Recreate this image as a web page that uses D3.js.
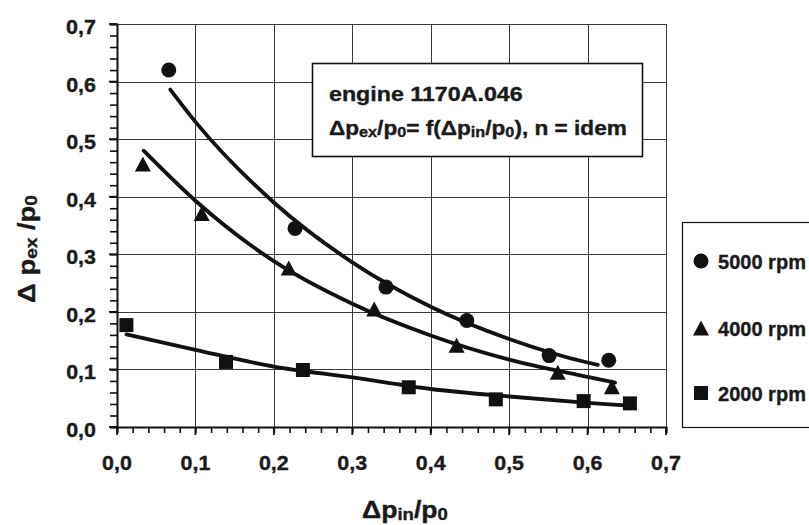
<!DOCTYPE html>
<html>
<head>
<meta charset="utf-8">
<script src="https://cdn.jsdelivr.net/npm/d3@7"></script>
<style>
  html, body { margin: 0; padding: 0; background: #fff; }
  svg { display: block; }
  text { font-family: "Liberation Sans", Arial, Helvetica, sans-serif; font-weight: bold; fill: #1a1a1a; stroke: #1a1a1a; stroke-width: 0.35px; }
</style>
</head>
<body>
<div id="chart"></div>
<script>
// ---------- data ----------
const xTickValues = [0, 0.1, 0.2, 0.3, 0.4, 0.5, 0.6, 0.7];
const xTickLabels = ["0,0", "0,1", "0,2", "0,3", "0,4", "0,5", "0,6", "0,7"];
const yTickValues = [0, 0.1, 0.2, 0.3, 0.4, 0.5, 0.6, 0.7];
const yTickLabels = ["0,0", "0,1", "0,2", "0,3", "0,4", "0,5", "0,6", "0,7"];

const seriesNames = ["5000 rpm", "4000 rpm", "2000 rpm"];
const seriesSymbols = ["circle", "triangle", "square"];

// measured points
const rpm5000X = [0.066, 0.227, 0.343, 0.446, 0.551, 0.627];
const rpm5000Y = [0.620, 0.345, 0.243, 0.185, 0.124, 0.116];
const rpm4000X = [0.033, 0.108, 0.219, 0.328, 0.433, 0.562, 0.631];
const rpm4000Y = [0.457, 0.371, 0.276, 0.205, 0.142, 0.095, 0.070];
const rpm2000X = [0.012, 0.139, 0.237, 0.372, 0.483, 0.595, 0.654];
const rpm2000Y = [0.177, 0.113, 0.099, 0.069, 0.048, 0.045, 0.041];

// trend lines
const trend5000X = [0.068, 0.1, 0.2, 0.3, 0.4, 0.5, 0.6, 0.613];
const trend5000Y = [0.586, 0.530, 0.390, 0.286, 0.209, 0.153, 0.112, 0.108];
const trend4000X = [0.034, 0.1, 0.2, 0.3, 0.4, 0.5, 0.6, 0.635];
const trend4000Y = [0.480, 0.393, 0.288, 0.214, 0.159, 0.117, 0.087, 0.077];
const trend2000X = [0.012, 0.1, 0.2, 0.3, 0.4, 0.5, 0.6, 0.652];
const trend2000Y = [0.161, 0.134, 0.105, 0.086, 0.066, 0.053, 0.042, 0.037];

const noteLine1 = "engine 1170A.046";

// ---------- layout ----------
const W = 809, H = 525;
const plot = { left: 117, right: 666, top: 24, bottom: 427 };

const svg = d3.select("#chart").append("svg").attr("width", W).attr("height", H);

const x = d3.scaleLinear().domain([0, 0.7]).range([plot.left, plot.right]);
const y = d3.scaleLinear().domain([0, 0.7]).range([plot.bottom, plot.top]);

// horizontal fit helper: stretch a text element horizontally to a target width around anchor ax
function fitWidth(sel, target, ax) {
  const bb = sel.node().getBBox();
  const k = target / bb.width;
  sel.attr("transform", `translate(${ax},0) scale(${k},1) translate(${-ax},0)`);
}

// ---------- grid ----------
const grid = svg.append("g");
grid.selectAll("line.v").data(xTickValues.slice(1)).join("line")
  .attr("x1", d => Math.round(x(d)) + 0.5).attr("x2", d => Math.round(x(d)) + 0.5)
  .attr("y1", plot.top).attr("y2", plot.bottom)
  .attr("stroke", "#3a3a3a").attr("stroke-width", 1);
grid.selectAll("line.h").data(yTickValues.slice(1)).join("line")
  .attr("y1", d => Math.round(y(d)) + 0.5).attr("y2", d => Math.round(y(d)) + 0.5)
  .attr("x1", plot.left).attr("x2", plot.right)
  .attr("stroke", "#3a3a3a").attr("stroke-width", 1);

// ---------- axes ----------
const minorX = d3.range(0, 0.7001, 0.02);
const xAxis = d3.axisBottom(x).tickValues(minorX).tickSize(6).tickFormat("");
const gx = svg.append("g").attr("transform", `translate(0,${plot.bottom})`).call(xAxis);
gx.select(".domain").attr("stroke", "#111").attr("stroke-width", 2);
gx.selectAll(".tick line").attr("stroke", "#111").attr("stroke-width", 1.6);
const yAxis = d3.axisLeft(y).tickValues(minorX).tickSize(7).tickFormat("");
const gy = svg.append("g").attr("transform", `translate(${plot.left},0)`).call(yAxis);
gy.select(".domain").attr("stroke", "#111").attr("stroke-width", 2);
gy.selectAll(".tick line").attr("stroke", "#111").attr("stroke-width", 1.6);

// major ticks a bit longer
svg.append("g").selectAll("line").data(xTickValues).join("line")
  .attr("x1", d => x(d)).attr("x2", d => x(d))
  .attr("y1", plot.bottom).attr("y2", plot.bottom + 8)
  .attr("stroke", "#111").attr("stroke-width", 1.8);
svg.append("g").selectAll("line").data(yTickValues).join("line")
  .attr("y1", d => y(d)).attr("y2", d => y(d))
  .attr("x1", plot.left - 8).attr("x2", plot.left)
  .attr("stroke", "#111").attr("stroke-width", 1.8);

// tick labels
xTickValues.forEach((v, i) => {
  const t = svg.append("text").attr("x", x(v)).attr("y", 470)
    .attr("text-anchor", "middle").attr("font-size", 19.5).text(xTickLabels[i]);
  fitWidth(t, 30, x(v));
});
yTickValues.forEach((v, i) => {
  const t = svg.append("text").attr("x", 96).attr("y", y(v) + 10)
    .attr("text-anchor", "end").attr("font-size", 19.5).text(yTickLabels[i]);
  fitWidth(t, 30, 96);
});

// ---------- trend lines ----------
const line = d3.line().x(d => x(d[0])).y(d => y(d[1])).curve(d3.curveMonotoneX);
const trends = [
  d3.zip(trend5000X, trend5000Y),
  d3.zip(trend4000X, trend4000Y),
  d3.zip(trend2000X, trend2000Y)
];
svg.append("g").selectAll("path").data(trends).join("path")
  .attr("d", line).attr("fill", "none").attr("stroke", "#111")
  .attr("stroke-width", 3.8).attr("stroke-linecap", "round").attr("stroke-linejoin", "round");

// ---------- markers ----------
function marker(g, kind, cx, cy) {
  if (kind === "circle") {
    g.append("circle").attr("cx", cx).attr("cy", cy).attr("r", 7.5).attr("fill", "#111");
  } else if (kind === "triangle") {
    const w = 16, h = 15;
    g.append("path").attr("d", `M${cx},${cy - h / 2}L${cx + w / 2},${cy + h / 2}L${cx - w / 2},${cy + h / 2}Z`)
      .attr("fill", "#111");
  } else {
    const s = 14;
    g.append("rect").attr("x", cx - s / 2).attr("y", cy - s / 2).attr("width", s).attr("height", s)
      .attr("fill", "#111");
  }
}
const pts = [d3.zip(rpm5000X, rpm5000Y), d3.zip(rpm4000X, rpm4000Y), d3.zip(rpm2000X, rpm2000Y)];
const gm = svg.append("g");
pts.forEach((arr, i) => arr.forEach(p => marker(gm, seriesSymbols[i], x(p[0]), y(p[1]))));

// ---------- annotation box ----------
svg.append("rect").attr("x", 312.5).attr("y", 63.5).attr("width", 330).attr("height", 93)
  .attr("fill", "#fff").attr("stroke", "#111").attr("stroke-width", 1.6);
const n1 = svg.append("text").attr("x", 329).attr("y", 101).attr("font-size", 19.5).text(noteLine1);
fitWidth(n1, 194, 329);
const n2 = svg.append("text").attr("x", 329).attr("y", 135).attr("font-size", 19.5);
n2.append("tspan").text("Δp");
n2.append("tspan").attr("font-size", 14).attr("dy", 2).text("ex");
n2.append("tspan").attr("dy", -2).text("/p");
n2.append("tspan").attr("font-size", 14).attr("dy", 2).text("0");
n2.append("tspan").attr("dy", -2).text("= f(Δp");
n2.append("tspan").attr("font-size", 14).attr("dy", 2).text("in");
n2.append("tspan").attr("dy", -2).text("/p");
n2.append("tspan").attr("font-size", 14).attr("dy", 2).text("0");
n2.append("tspan").attr("dy", -2).text("), n = idem");
fitWidth(n2, 298, 329);

// ---------- legend ----------
svg.append("rect").attr("x", 682.5).attr("y", 222.5).attr("width", 140).attr("height", 205)
  .attr("fill", "#fff").attr("stroke", "#111").attr("stroke-width", 1.2);
const legY = [261, 328, 393];
seriesNames.forEach((name, i) => {
  marker(svg, seriesSymbols[i], 701, legY[i]);
  const t = svg.append("text").attr("x", 718).attr("y", legY[i] + 8).attr("font-size", 21).text(name);
  fitWidth(t, 88, 718);
});

// ---------- axis titles ----------
const xt = svg.append("text").attr("x", 405).attr("y", 518).attr("text-anchor", "middle").attr("font-size", 23);
xt.append("tspan").text("Δp");
xt.append("tspan").attr("font-size", 16).attr("dy", 2).text("in");
xt.append("tspan").attr("dy", -2).text("/p");
xt.append("tspan").attr("font-size", 16).attr("dy", 2).text("0");
fitWidth(xt, 86, 405);

const yg = svg.append("g").attr("transform", "translate(35,249) rotate(-90)");
const yt = yg.append("text").attr("x", 0).attr("y", 0).attr("text-anchor", "middle").attr("font-size", 23);
yt.append("tspan").text("Δ p");
yt.append("tspan").attr("font-size", 16).attr("dy", 2).text("ex");
yt.append("tspan").attr("dy", -2).text(" /p");
yt.append("tspan").attr("font-size", 16).attr("dy", 2).text("0");
fitWidth(yt, 108, 0);
</script>
</body>
</html>
